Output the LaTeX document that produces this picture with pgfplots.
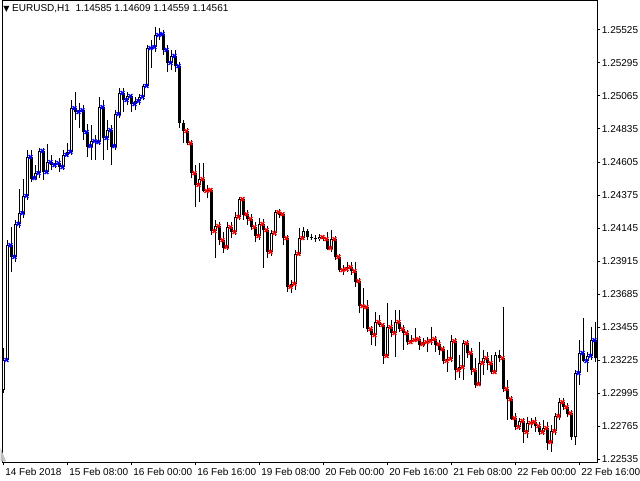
\documentclass[border=0pt]{standalone}
\usepackage{pgfplots}
\pgfplotsset{compat=1.18}
\usepackage{pgfplotstable}
\usepackage{fontspec}
\setmainfont{Liberation Sans}
\newfontfamily\symfont{DejaVu Sans}

% EURUSD H1 candles, bar 0 = 14 Feb 2018 16:00 ; m = indicator mark (b blue, r red, n none)
\pgfplotstableread{
k o h l c m
0 1.23016 1.23308 1.22995 1.23225 b
1 1.23225 1.24061 1.23211 1.24026 b
2 1.24026 1.24152 1.23838 1.23943 b
3 1.23943 1.24201 1.23908 1.24173 b
4 1.24173 1.24417 1.24145 1.24249 b
5 1.24249 1.24486 1.24215 1.24368 b
6 1.24368 1.24689 1.24340 1.24640 b
7 1.24640 1.24689 1.24466 1.24493 b
8 1.24493 1.24584 1.24479 1.24528 b
9 1.24528 1.24702 1.24493 1.24682 b
10 1.24682 1.24702 1.24479 1.24535 b
11 1.24535 1.24730 1.24521 1.24605 b
12 1.24605 1.24654 1.24549 1.24584 b
13 1.24584 1.24619 1.24563 1.24598 b
14 1.24598 1.24633 1.24535 1.24570 b
15 1.24570 1.24689 1.24549 1.24654 b
16 1.24654 1.24737 1.24640 1.24675 b
17 1.24675 1.25037 1.24654 1.24981 b
18 1.24981 1.25093 1.24898 1.24953 b
19 1.24953 1.25016 1.24842 1.24967 b
20 1.24967 1.25002 1.24758 1.24814 b
21 1.24814 1.24870 1.24640 1.24716 b
22 1.24716 1.24863 1.24619 1.24751 b
23 1.24751 1.24793 1.24619 1.24744 b
24 1.24744 1.25058 1.24723 1.24988 b
25 1.24988 1.25037 1.24619 1.24772 b
26 1.24772 1.24898 1.24689 1.24828 b
27 1.24828 1.24863 1.24584 1.24716 b
28 1.24716 1.24967 1.24689 1.24939 b
29 1.24939 1.25121 1.24912 1.25086 b
30 1.25086 1.25121 1.24953 1.25037 b
31 1.25037 1.25093 1.25002 1.25065 b
32 1.25065 1.25079 1.24953 1.25009 b
33 1.25009 1.25058 1.24967 1.25030 b
34 1.25030 1.25079 1.25002 1.25058 b
35 1.25058 1.25149 1.25037 1.25135 b
36 1.25135 1.25420 1.25121 1.25399 b
37 1.25399 1.25455 1.25260 1.25406 b
38 1.25406 1.25546 1.25372 1.25490 b
39 1.25490 1.25539 1.25455 1.25497 b
40 1.25497 1.25525 1.25351 1.25386 b
41 1.25386 1.25420 1.25232 1.25295 b
42 1.25295 1.25386 1.25246 1.25344 b
43 1.25344 1.25386 1.25232 1.25274 b
44 1.25274 1.25302 1.24842 1.24877 n
45 1.24877 1.24898 1.24737 1.24821 r
46 1.24821 1.24842 1.24723 1.24737 r
47 1.24737 1.24758 1.24493 1.24528 r
48 1.24528 1.24584 1.24291 1.24445 r
49 1.24445 1.24598 1.24326 1.24486 r
50 1.24486 1.24598 1.24396 1.24403 r
51 1.24403 1.24445 1.24354 1.24410 r
52 1.24410 1.24424 1.24096 1.24124 r
53 1.24124 1.24201 1.23936 1.24159 r
54 1.24159 1.24187 1.24026 1.24061 r
55 1.24061 1.24117 1.23971 1.24012 r
56 1.24012 1.24187 1.23992 1.24152 r
57 1.24152 1.24187 1.24075 1.24117 r
58 1.24117 1.24256 1.24096 1.24222 r
59 1.24222 1.24361 1.24201 1.24347 r
60 1.24347 1.24361 1.24201 1.24242 r
61 1.24242 1.24270 1.24166 1.24208 r
62 1.24208 1.24242 1.24131 1.24152 r
63 1.24152 1.24187 1.24047 1.24089 r
64 1.24089 1.24215 1.24061 1.24173 r
65 1.24173 1.24208 1.23866 1.24131 r
66 1.24131 1.24159 1.23936 1.23978 r
67 1.23978 1.24131 1.23950 1.24110 r
68 1.24110 1.24270 1.24089 1.24256 r
69 1.24256 1.24277 1.24215 1.24242 r
70 1.24242 1.24256 1.24026 1.24075 r
71 1.24075 1.24096 1.23699 1.23734 r
72 1.23734 1.23782 1.23692 1.23755 r
73 1.23755 1.23992 1.23713 1.23964 r
74 1.23964 1.24145 1.23950 1.24075 r
75 1.24075 1.24152 1.24061 1.24124 n
76 1.24124 1.24138 1.24061 1.24082 n
77 1.24082 1.24103 1.24061 1.24075 n
78 1.24075 1.24096 1.24047 1.24068 n
79 1.24068 1.24103 1.24054 1.24082 r
80 1.24082 1.24096 1.24054 1.24068 r
81 1.24068 1.24117 1.23992 1.24005 r
82 1.24005 1.24131 1.23978 1.24068 r
83 1.24068 1.24089 1.23922 1.23943 r
84 1.23943 1.23964 1.23838 1.23852 r
85 1.23852 1.23887 1.23817 1.23859 r
86 1.23859 1.23908 1.23838 1.23873 r
87 1.23873 1.23908 1.23817 1.23845 r
88 1.23845 1.23908 1.23734 1.23775 r
89 1.23775 1.23796 1.23552 1.23601 r
90 1.23601 1.23727 1.23448 1.23594 r
91 1.23594 1.23643 1.23420 1.23441 r
92 1.23441 1.23462 1.23329 1.23399 r
93 1.23399 1.23559 1.23322 1.23490 r
94 1.23490 1.23538 1.23455 1.23469 r
95 1.23469 1.23483 1.23197 1.23253 r
96 1.23253 1.23622 1.23239 1.23455 r
97 1.23455 1.23504 1.23385 1.23413 r
98 1.23413 1.23573 1.23246 1.23490 r
99 1.23490 1.23573 1.23420 1.23441 r
100 1.23441 1.23469 1.23295 1.23413 r
101 1.23413 1.23434 1.23329 1.23350 r
102 1.23350 1.23399 1.23336 1.23364 r
103 1.23364 1.23448 1.23350 1.23371 r
104 1.23371 1.23392 1.23295 1.23336 r
105 1.23336 1.23378 1.23315 1.23350 r
106 1.23350 1.23385 1.23281 1.23357 r
107 1.23357 1.23455 1.23329 1.23371 r
108 1.23371 1.23392 1.23281 1.23336 r
109 1.23336 1.23364 1.23260 1.23301 r
110 1.23301 1.23322 1.23197 1.23218 r
111 1.23218 1.23295 1.23141 1.23232 r
112 1.23232 1.23399 1.23211 1.23357 r
113 1.23357 1.23378 1.23085 1.23155 r
114 1.23155 1.23260 1.23099 1.23176 r
115 1.23176 1.23364 1.23085 1.23343 r
116 1.23343 1.23364 1.23239 1.23274 r
117 1.23274 1.23308 1.23120 1.23155 r
118 1.23155 1.23239 1.23030 1.23057 r
119 1.23057 1.23350 1.23044 1.23204 r
120 1.23204 1.23295 1.23120 1.23239 r
121 1.23239 1.23281 1.23155 1.23204 r
122 1.23204 1.23260 1.23127 1.23141 r
123 1.23141 1.23281 1.23134 1.23260 n
124 1.23260 1.23295 1.23211 1.23239 r
125 1.23239 1.23594 1.23002 1.23023 r
126 1.23023 1.23085 1.22807 1.22953 r
127 1.22953 1.22974 1.22807 1.22820 r
128 1.22820 1.22855 1.22737 1.22758 r
129 1.22758 1.22820 1.22737 1.22800 r
130 1.22800 1.22820 1.22646 1.22723 r
131 1.22723 1.22827 1.22681 1.22786 r
132 1.22786 1.22820 1.22751 1.22793 r
133 1.22793 1.22827 1.22723 1.22765 r
134 1.22765 1.22793 1.22702 1.22723 r
135 1.22723 1.22807 1.22702 1.22751 r
136 1.22751 1.22793 1.22597 1.22653 r
137 1.22653 1.22772 1.22584 1.22730 r
138 1.22730 1.22855 1.22702 1.22834 r
139 1.22834 1.22960 1.22807 1.22932 r
140 1.22932 1.22960 1.22876 1.22897 r
141 1.22897 1.22925 1.22827 1.22855 r
142 1.22855 1.22876 1.22667 1.22688 n
143 1.22688 1.23155 1.22632 1.23134 b
144 1.23134 1.23364 1.23051 1.23274 b
145 1.23274 1.23518 1.23211 1.23218 b
146 1.23218 1.23281 1.23141 1.23253 b
147 1.23253 1.23455 1.23225 1.23364 b
148 1.23364 1.23490 1.23211 1.23239 n
}\candles

\begin{document}
\begin{tikzpicture}
\useasboundingbox (0pt,0pt) rectangle (480pt,360pt);
\begin{axis}[
  at={(1.875pt,13.5pt)}, anchor=south west,
  scale only axis,
  width=445.875pt, height=346.125pt,
  xmin=-0.3, xmax=148.325,
  ymin=1.225141, ymax=1.257306,
  axis line style={black, line width=0.75pt},
  tick align=outside,
  major tick length=2.5pt,
  tick style={black, line width=0.75pt},
  xtick={0,16,...,144},
  xticklabels={14 Feb 2018,15 Feb 08:00,16 Feb 00:00,16 Feb 16:00,19 Feb 08:00,20 Feb 00:00,20 Feb 16:00,21 Feb 08:00,22 Feb 00:00,22 Feb 16:00},
  xticklabel style={anchor=north west, inner sep=0pt, xshift=1pt, yshift=-2pt},
  ytick={1.22535,1.22765,1.22995,1.23225,1.23455,1.23685,1.23915,1.24145,1.24375,1.24605,1.24835,1.25065,1.25295,1.25525},
  yticklabels={1.22535,1.22765,1.22995,1.23225,1.23455,1.23685,1.23915,1.24145,1.24375,1.24605,1.24835,1.25065,1.25295,1.25525},
  yticklabel pos=right,
  yticklabel style={anchor=west, inner sep=0pt, xshift=1pt},
  ticklabel style={font=\fontsize{7.5}{9}\selectfont},
  xtick pos=bottom, ytick pos=right,
  clip=true,
]
% wicks
\addplot[draw=none, mark=none, forget plot, error bars/.cd, y dir=plus, y explicit, error mark=none,
  error bar style={draw=black, line width=0.9pt}]
  table[x=k, y=l, y error expr=\thisrow{h}-\thisrow{l}] {\candles};
% bodies
\addplot[draw=none, mark=none, forget plot, error bars/.cd, y dir=plus, y explicit, error mark=none,
  error bar style={draw=black, line width=2.4pt}]
  table[x=k, y expr={min(\thisrow{o},\thisrow{c})-0.00003}, y error expr={abs(\thisrow{c}-\thisrow{o})+0.00006}] {\candles};
% hollow inside of rising candles
\addplot[draw=none, mark=none, forget plot, error bars/.cd, y dir=plus, y explicit, error mark=none,
  error bar style={draw=white, line width=0.7pt}]
  table[x=k, y expr={\thisrow{o}+0.00005}, y error expr={(\thisrow{c}>\thisrow{o})*max(\thisrow{c}-\thisrow{o}-0.0001,0)}] {\candles};
% indicator marks
\addplot[scatter, only marks, mark=x, mark size=2pt, point meta=explicit symbolic,
  scatter/classes={
    b={mark=x, draw=blue, line width=1.05pt},
    r={mark=x, draw=red, line width=1.05pt},
    n={mark=none, draw=none}}]
  table[x expr=\thisrow{k}+0.7, y=c, meta=m] {\candles};
\end{axis}
\node[anchor=west, inner sep=0pt, font=\fontsize{7.5}{9}\selectfont] at (2.25pt,353.6pt)
  {{\symfont\fontsize{6}{9}\selectfont ▼}\ EURUSD,H1\ \ 1.14585 1.14609 1.14559 1.14561};
\fill[black!25] (0.4pt,24pt) -- (0.4pt,14pt) -- (4.5pt,14pt) -- cycle;
\end{tikzpicture}
\end{document}
